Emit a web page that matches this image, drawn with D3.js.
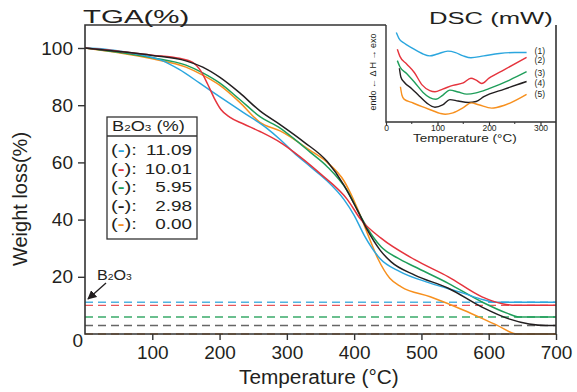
<!DOCTYPE html>
<html>
<head>
<meta charset="utf-8">
<script src="https://cdn.jsdelivr.net/npm/d3@7"></script>
<style>
    body { margin: 0; background: #fff; }
    svg text { font-family: "Liberation Sans", Arial, sans-serif; fill: #231f20; }
</style>
</head>
<body>
<div id="chart"></div>
<script>
// TGA curves: [temperature (°C), weight loss (%)]
const tgaBlue = [[0,100],[30,99.6],[60,98.6],[90,97.3],[115,95.6],[140,92.5],[170,87.8],[200,83],[235,77.5],[270,72],[290,68],[310,63.5],[335,58.5],[360,53.5],[385,47],[400,41.5],[415,34.5],[438,26.5],[468,21.8],[513,17.8],[562,14.3],[592,12],[612,11.09],[700,11.09]];
const tgaRed = [[0,100],[50,98.9],[100,97.5],[140,96.4],[160,95],[172,92],[182,87.5],[192,82.5],[202,78.5],[215,75.8],[235,73.5],[260,70.8],[290,67],[310,63.7],[350,56],[390,47],[410,40],[440,33.5],[490,26],[540,20],[590,13],[620,10.6],[640,10.01],[700,10.01]];
const tgaGreen = [[0,100],[50,98.5],[100,96.6],[150,94],[175,91.3],[200,87.8],[230,82],[260,76],[290,72],[310,68.4],[335,63.5],[360,58.5],[390,50],[410,41],[428,34],[440,30.5],[465,26.5],[490,23.5],[540,17.7],[590,11.2],[627,7.3],[645,5.95],[700,5.95]];
const tgaBlack = [[0,100],[50,98.8],[100,97.4],[150,95.5],[175,93.3],[200,89.8],[230,84.3],[260,78],[290,73.2],[325,67.2],[360,60.3],[385,52],[405,43.2],[420,36.2],[438,29.5],[455,25.2],[490,20.6],[540,16],[590,9.4],[630,5.3],[660,3.5],[685,2.98],[700,2.98]];
const tgaOrange = [[0,100],[50,98.3],[100,96.2],[150,93.3],[175,90.5],[200,87],[230,81],[260,74],[290,71],[334,64.3],[360,60],[385,53.5],[400,46.5],[410,41],[420,35],[435,26.5],[453,19.5],[470,16.5],[513,13],[562,8.4],[612,3.1],[642,0],[700,0]];

// B2O3 residue of each sample (%)
const b2o3Values = [11.09, 10.01, 5.95, 2.98, 0];
const b2o3Labels = ['11.09', '10.01', '5.95', '2.98', '0.00'];
const seriesColors = ['#2ba6de', '#e5343d', '#1f9e5a', '#231f20', '#f7901e'];
const dashColors = ['#4fb3e0', '#e8555a', '#3aaa6a', '#666666', '#d98a3a'];

const tgaTicksX = [100, 200, 300, 400, 500, 600, 700];
const tgaTicksY = [20, 40, 60, 80, 100];

// DSC inset curves: [temperature (°C), heat flow (arb.)]
const dsc1 = [[20,9.2],[25,8.6],[35,8.1],[50,7.6],[70,7.0],[85,6.75],[100,6.95],[120,7.25],[135,7.1],[150,6.75],[165,6.55],[190,6.75],[220,7.0],[250,7.1],[273,7.1]];
const dsc2 = [[22,7.45],[27,6.7],[40,5.9],[55,5.0],[70,3.7],[85,3.1],[95,2.98],[110,3.25],[130,3.65],[150,3.9],[165,4.4],[175,4.2],[186,3.85],[200,4.4],[230,5.3],[273,6.6]];
const dsc3 = [[22,6.25],[27,5.6],[40,4.9],[55,4.0],[72,2.9],[85,2.35],[97,2.18],[110,2.6],[124,3.15],[140,2.95],[157,2.72],[175,2.85],[200,3.3],[240,4.2],[273,5.08]];
const dsc4 = [[26,5.45],[29,4.5],[35,4.0],[50,3.3],[65,2.5],[80,1.75],[95,1.35],[110,1.6],[124,2.15],[140,2.0],[160,1.85],[175,1.95],[190,2.45],[230,3.25],[273,4.05]];
const dsc5 = [[28,3.5],[31,2.6],[35,2.2],[50,1.85],[70,1.4],[90,1.0],[105,0.7],[115,0.6],[130,0.75],[150,1.3],[165,1.8],[180,1.6],[205,1.25],[230,1.55],[273,2.7]];
const dscLabels = ['(1)', '(2)', '(3)', '(4)', '(5)'];
const dscTicks = [0, 100, 200, 300];
const dscMinorTicks = [50, 150, 250];

const tgaSeries = [tgaBlue, tgaRed, tgaGreen, tgaBlack, tgaOrange];
const dscSeries = [dsc1, dsc2, dsc3, dsc4, dsc5];

const width = 577, height = 392;
const margin = { top: 25, right: 21, bottom: 58, left: 85 };
const axisColor = '#333';

// stretch a text element horizontally (the figure's lettering is wide)
function stretch(sel, k) {
    let w = sel.node().getComputedTextLength();
    sel.attr('textLength', w * k).attr('lengthAdjust', 'spacingAndGlyphs');
    return sel;
}

let svg = d3.select('#chart').append('svg')
    .attr('width', width)
    .attr('height', height);

// main scales
let x = d3.scaleLinear().domain([0, 700]).range([margin.left, width - margin.right]);
let y = d3.scaleLinear().domain([0, 100]).range([height - margin.bottom, 48]);
let plotTop = margin.top, plotBottom = height - margin.bottom;

// inset scales
let xi = d3.scaleLinear().domain([0, 300]).range([386, 540.5]);
let yi = d3.scaleLinear().domain([0, 10]).range([120, 25]);
let insetBottom = 122;

// dashed residue lines
svg.append('g').selectAll('line')
    .data(b2o3Values)
    .join('line')
    .attr('x1', x(0)).attr('x2', x(700))
    .attr('y1', d => y(d)).attr('y2', d => y(d))
    .attr('stroke', (d, i) => dashColors[i])
    .attr('stroke-width', 1.4)
    .attr('stroke-dasharray', '8,5');

// TGA curves
let line = d3.line()
    .x(d => x(d[0]))
    .y(d => y(d[1]))
    .curve(d3.curveMonotoneX);

let drawOrder = [4, 2, 0, 1, 3];
svg.append('g').selectAll('path')
    .data(drawOrder)
    .join('path')
    .attr('fill', 'none')
    .attr('stroke', i => seriesColors[i])
    .attr('stroke-width', 1.5)
    .attr('d', i => line(tgaSeries[i]));

// axes
let yAxis = d3.axisLeft(y).tickValues(tgaTicksY).tickSize(7).tickPadding(5).tickSizeOuter(0);
let xAxis = d3.axisBottom(x).tickValues(tgaTicksX).tickSize(6).tickPadding(6).tickSizeOuter(0);

let gy = svg.append('g')
    .attr('transform', `translate(${margin.left},0)`)
    .call(yAxis);
let gx = svg.append('g')
    .attr('transform', `translate(0,${plotBottom})`)
    .call(xAxis);

[gx, gy].forEach(g => {
    g.select('.domain').remove();
    g.selectAll('.tick line').attr('stroke', axisColor).attr('stroke-width', 1.4);
    g.selectAll('.tick text')
        .style('font-family', '"Liberation Sans", Arial, sans-serif')
        .style('font-size', '19px')
        .attr('fill', '#231f20');
});

svg.append('text')
    .attr('x', 83).attr('y', 347)
    .attr('text-anchor', 'end')
    .style('font-size', '19px')
    .text('0');

// frame (top edge stops at the inset)
let frame = svg.append('g')
    .attr('stroke', axisColor)
    .attr('stroke-width', 1.6)
    .attr('fill', 'none');
frame.append('path')
    .attr('d', `M${xi(0)},${plotTop}H${x(0)}V${plotBottom}H${x(700)}V${plotTop}`);

// titles
stretch(svg.append('text')
    .attr('x', 83).attr('y', 23)
    .style('font-size', '19px')
    .text('TGA(%)'), 1.55);

stretch(svg.append('text')
    .attr('x', 239).attr('y', 384)
    .style('font-size', '20px')
    .text('Temperature (°C)'), 1.04);

svg.append('text')
    .attr('transform', 'translate(27,199) rotate(-90)')
    .attr('text-anchor', 'middle')
    .style('font-size', '20px')
    .text('Weight loss(%)');

// B2O3 arrow annotation
svg.append('defs').append('marker')
    .attr('id', 'arrow')
    .attr('viewBox', '0 0 10 10')
    .attr('refX', 9).attr('refY', 5)
    .attr('markerWidth', 7).attr('markerHeight', 7)
    .attr('orient', 'auto')
    .append('path')
    .attr('d', 'M0,0L10,5L0,10z')
    .attr('fill', '#231f20');

svg.append('line')
    .attr('x1', 106).attr('y1', 283)
    .attr('x2', 88).attr('y2', 299)
    .attr('stroke', '#231f20')
    .attr('stroke-width', 1.3)
    .attr('marker-end', 'url(#arrow)');

let b2o3Note = svg.append('text')
    .attr('x', 97).attr('y', 280)
    .style('font-size', '14px');
b2o3Note.append('tspan').text('B');
b2o3Note.append('tspan').style('font-size', '9px').text('2');
b2o3Note.append('tspan').text('O');
b2o3Note.append('tspan').style('font-size', '9px').text('3');
stretch(b2o3Note, 1.15);

// legend box
let legend = svg.append('g');
legend.append('rect')
    .attr('x', 107).attr('y', 117)
    .attr('width', 90).attr('height', 122)
    .attr('fill', '#fff')
    .attr('stroke', axisColor)
    .attr('stroke-width', 1.3);
legend.append('line')
    .attr('x1', 107).attr('x2', 197)
    .attr('y1', 136).attr('y2', 136)
    .attr('stroke', axisColor)
    .attr('stroke-width', 1.3);

let header = legend.append('text')
    .attr('x', 112).attr('y', 131)
    .style('font-size', '14px');
header.append('tspan').text('B');
header.append('tspan').style('font-size', '9px').text('2');
header.append('tspan').text('O');
header.append('tspan').style('font-size', '9px').text('3');
header.append('tspan').text(' (%)');
stretch(header, 1.3);

b2o3Labels.forEach((lab, i) => {
    let yy = 155 + i * 18.5;
    let t = legend.append('text')
        .attr('x', 111).attr('y', yy)
        .style('font-size', '14px');
    t.append('tspan').text('(');
    t.append('tspan').attr('fill', seriesColors[i]).style('font-weight', 'bold').text('-');
    t.append('tspan').text('):');
    stretch(t, 1.45);
    stretch(legend.append('text')
        .attr('x', 192).attr('y', yy)
        .attr('text-anchor', 'end')
        .style('font-size', '14px')
        .text(lab), 1.35);
});

// ---- DSC inset ----
let inset = svg.append('g');

inset.append('path')
    .attr('d', `M${xi(0)},${plotTop}V${insetBottom}H${x(700)}`)
    .attr('fill', 'none')
    .attr('stroke', axisColor)
    .attr('stroke-width', 1.4);

let dscLine = d3.line()
    .x(d => xi(d[0]))
    .y(d => yi(d[1]))
    .curve(d3.curveMonotoneX);

inset.selectAll('.dsc')
    .data(dscSeries)
    .join('path')
    .attr('class', 'dsc')
    .attr('fill', 'none')
    .attr('stroke', (d, i) => seriesColors[i])
    .attr('stroke-width', 1.4)
    .attr('d', d => dscLine(d));

// curve labels sit just right of each curve end, spread a little so they don't collide
let labelNudge = [-2, 3, 1, 1, 0];
inset.selectAll('.dsc-label')
    .data(dscSeries)
    .join('text')
    .attr('class', 'dsc-label')
    .attr('x', d => xi(d[d.length - 1][0]) + 8)
    .attr('y', (d, i) => yi(d[d.length - 1][1]) + 3 + labelNudge[i])
    .style('font-size', '8.5px')
    .text((d, i) => dscLabels[i]);

let xiAxis = d3.axisBottom(xi).tickValues(dscTicks).tickSize(3).tickPadding(0).tickSizeOuter(0);
let gi = inset.append('g')
    .attr('transform', `translate(0,${insetBottom})`)
    .call(xiAxis);
gi.select('.domain').remove();
gi.selectAll('.tick line').attr('stroke', axisColor).attr('stroke-width', 1.2);
gi.selectAll('.tick text')
    .style('font-family', '"Liberation Sans", Arial, sans-serif')
    .style('font-size', '8.5px')
    .attr('fill', '#231f20');

inset.selectAll('.minor')
    .data(dscMinorTicks)
    .join('line')
    .attr('class', 'minor')
    .attr('x1', d => xi(d)).attr('x2', d => xi(d))
    .attr('y1', insetBottom).attr('y2', insetBottom + 2)
    .attr('stroke', axisColor)
    .attr('stroke-width', 1);

stretch(inset.append('text')
    .attr('x', 413).attr('y', 142)
    .style('font-size', '10px')
    .text('Temperature (°C)'), 1.35);

inset.append('text')
    .attr('transform', 'translate(376,72) rotate(-90)')
    .attr('text-anchor', 'middle')
    .style('font-size', '9px')
    .text('endo ← Δ H → exo');

stretch(svg.append('text')
    .attr('x', 429).attr('y', 24)
    .style('font-size', '16px')
    .text('DSC (mW)'), 1.6);
</script>
</body>
</html>
